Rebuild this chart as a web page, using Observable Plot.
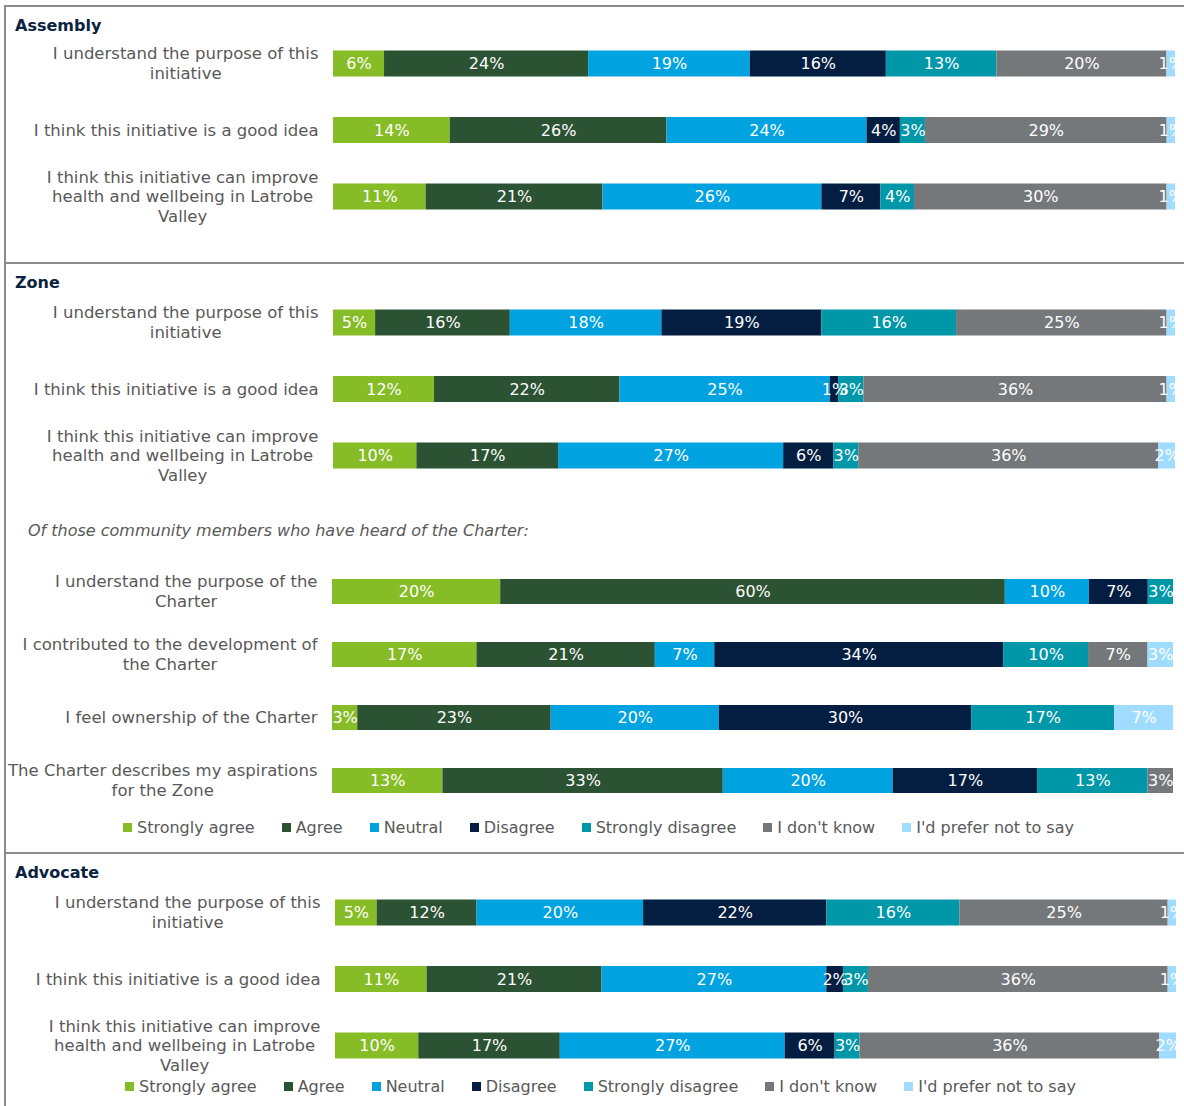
<!DOCTYPE html>
<html>
<head>
<meta charset="utf-8">
<script src="https://cdn.jsdelivr.net/npm/d3@7"></script>
<script src="https://cdn.jsdelivr.net/npm/@observablehq/plot@0.6"></script>
<style>
  body { margin: 0; background: #fff; }
  #chart { position: relative; width: 1184px; height: 1106px; overflow: hidden; background: #fff;
           font-family: "DejaVu Sans", sans-serif; }
  .rule { position: absolute; background: #8c8c8c; }
  .title { position: absolute; font-weight: bold; font-size: 16px; line-height: 20px; color: #0b2240; }
  .note { position: absolute; font-style: italic; font-size: 16px; line-height: 20px; color: #595959; }
  .panel { position: absolute; left: 0; }
  .legend { position: absolute; }
  .lg-swatch { margin-right: 27px !important; }
  .lg-swatch > svg { margin-right: 5px !important; }
</style>
</head>
<body>
<div id="chart"></div>
<script>
// Response categories and their colours
const categories = ["Strongly agree", "Agree", "Neutral", "Disagree", "Strongly disagree", "I don't know", "I'd prefer not to say"];
const colors = ["#86bc25", "#2c5234", "#00a3e0", "#041e42", "#0097a9", "#75787b", "#a0dcff"];

// Statements (line breaks mark where the labels wrap)
const initiativeQuestions = [
  "I understand the purpose of this\ninitiative",
  "I think this initiative is a good idea",
  "I think this initiative can improve\nhealth and wellbeing in Latrobe\nValley"
];
const charterQuestions = [
  "I understand the purpose of the\nCharter",
  "I contributed to the development of\nthe Charter",
  "I feel ownership of the Charter",
  "The Charter describes my aspirations\nfor the Zone"
];

// Percentages per statement, in category order
const assemblyValues = [
  [6, 24, 19, 16, 13, 20, 1],
  [14, 26, 24, 4, 3, 29, 1],
  [11, 21, 26, 7, 4, 30, 1]
];
const zoneValues = [
  [5, 16, 18, 19, 16, 25, 1],
  [12, 22, 25, 1, 3, 36, 1],
  [10, 17, 27, 6, 3, 36, 2]
];
const charterValues = [
  [20, 60, 10, 7, 3, 0, 0],
  [17, 21, 7, 34, 10, 7, 3],
  [3, 23, 20, 30, 17, 0, 7],
  [13, 33, 20, 17, 13, 3, 0]
];
const advocateValues = [
  [5, 12, 20, 22, 16, 25, 1],
  [11, 21, 27, 2, 3, 36, 1],
  [10, 17, 27, 6, 3, 36, 2]
];

const chart = document.getElementById("chart");
const W = 1184;
const LABEL_SIZE = 16.5;

const ctx = document.createElement("canvas").getContext("2d");
ctx.font = `${LABEL_SIZE}px "DejaVu Sans"`;
const measure = (s) => ctx.measureText(s).width;

function add(tag, cls, css, text) {
  const el = document.createElement(tag);
  if (cls) el.className = cls;
  Object.assign(el.style, css);
  if (text) el.textContent = text;
  chart.appendChild(el);
  return el;
}

// Frame rules
add("div", "rule", {left: "4px", top: "5px", width: "2px", height: "1101px"});
add("div", "rule", {left: "4px", top: "5px", width: (W - 4) + "px", height: "2px"});
add("div", "rule", {left: "4px", top: "262px", width: (W - 4) + "px", height: "2px"});
add("div", "rule", {left: "4px", top: "852px", width: (W - 4) + "px", height: "2px"});

// One stacked 100% bar panel
function panel({questions, values, firstCenter, step, barH, left, right, gap}) {
  const rows = [];
  questions.forEach((q, i) => categories.forEach((c, j) => {
    if (values[i][j] > 0) rows.push({question: q, category: c, value: values[i][j]});
  }));
  const p = 1 - barH / step;
  const height = step * (questions.length + p);
  const top = firstCenter - step * (1 + p) / 2;

  const labels = questions.map(q => {
    const w = d3.max(q.split("\n"), measure);
    return Plot.text([q], {
      y: d => d, text: d => d, frameAnchor: "left", textAnchor: "middle",
      dx: -(gap + w / 2), dy: -1, lineHeight: 1.2, fill: "#595959", fontSize: LABEL_SIZE
    });
  });

  const svg = Plot.plot({
    width: W, height,
    marginLeft: left, marginRight: W - right, marginTop: 0, marginBottom: 0,
    x: {domain: [0, 1], axis: null},
    y: {domain: questions, padding: p, round: false, axis: null},
    color: {domain: categories, range: colors},
    style: {fontFamily: "DejaVu Sans", fontSize: "16px", background: "transparent", overflow: "visible"},
    marks: [
      Plot.barX(rows, Plot.stackX({offset: "normalize", order: categories, x: "value", y: "question", fill: "category"})),
      Plot.text(rows, Plot.stackX({offset: "normalize", order: categories, x: "value", y: "question", z: "category",
        text: d => d.value + "%", fill: "white", fontSize: 16})),
      ...labels
    ]
  });
  svg.classList.add("panel");
  svg.style.top = top + "px";
  chart.appendChild(svg);
}

function legend(left, centerY) {
  const lg = Plot.legend({
    color: {domain: categories, range: colors},
    legend: "swatches", swatchSize: 9, className: "lg",
    style: {fontFamily: "DejaVu Sans", fontSize: "16px", color: "#595959", margin: 0}
  });
  const wrap = add("div", "legend", {left: left + "px", top: (centerY - 16.5) + "px"});
  wrap.appendChild(lg);
}

// Assembly
add("div", "title", {left: "15px", top: "16px"}, "Assembly");
panel({questions: initiativeQuestions, values: assemblyValues, firstCenter: 63, step: 66.5, barH: 26, left: 333, right: 1175, gap: 15});

// Zone
add("div", "title", {left: "15px", top: "273px"}, "Zone");
panel({questions: initiativeQuestions, values: zoneValues, firstCenter: 322, step: 66.5, barH: 26, left: 333, right: 1175, gap: 15});
add("div", "note", {left: "28px", top: "521px"}, "Of those community members who have heard of the Charter:");
panel({questions: charterQuestions, values: charterValues, firstCenter: 591, step: 63, barH: 25, left: 332, right: 1173, gap: 15});
legend(123, 827);

// Advocate
add("div", "title", {left: "15px", top: "863px"}, "Advocate");
panel({questions: initiativeQuestions, values: advocateValues, firstCenter: 912, step: 66.5, barH: 26, left: 335, right: 1176, gap: 15});
legend(125, 1086);
</script>
</body>
</html>
